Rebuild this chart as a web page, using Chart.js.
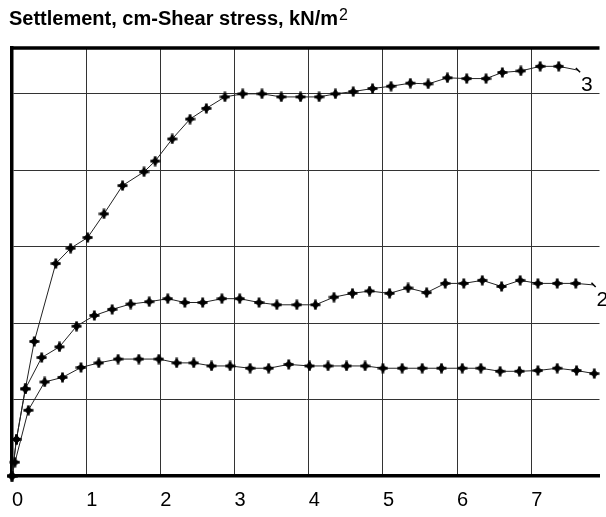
<!DOCTYPE html>
<html>
<head>
<meta charset="utf-8">
<title>Settlement - Shear stress</title>
<script src="https://cdn.jsdelivr.net/npm/chart.js@4.4.1/dist/chart.umd.min.js"></script>
<style>
  html, body { margin: 0; padding: 0; background: #fff; overflow: hidden; }
  #wrap { position: relative; width: 606px; height: 517px; }
  #title {
    position: absolute; left: 9px; top: 8px;
    font: bold 20px "Liberation Sans", Arial, sans-serif; line-height: 20px;
    color: #000; white-space: nowrap;
  }
  #title span { font-size: 16px; font-weight: normal; position: relative; top: -5px; margin-left: 1px; }
</style>
</head>
<body>
<div id="wrap">
  <canvas id="chart" width="606" height="517"></canvas>
  <div id="title">Settlement, cm-Shear stress, kN/m<span>2</span></div>
</div>
<script>
// settlement readings (cm) and shear stress (one unit per grid line) for each test
const settle1 = [0, 0.04, 0.22, 0.44, 0.68, 0.93, 1.17, 1.43, 1.71, 1.98, 2.22, 2.45, 2.69, 2.94, 3.21, 3.46,
                 3.73, 4.01, 4.26, 4.51, 4.76, 5.00, 5.26, 5.53, 5.79, 6.07, 6.32, 6.58, 6.84, 7.09, 7.35, 7.61, 7.85];
const stress1 = [0, 0.18, 0.86, 1.23, 1.29, 1.42, 1.48, 1.53, 1.53, 1.53, 1.48, 1.48, 1.44, 1.44, 1.41, 1.41,
                 1.46, 1.44, 1.44, 1.44, 1.44, 1.41, 1.41, 1.41, 1.41, 1.41, 1.41, 1.37, 1.37, 1.38, 1.41, 1.38, 1.34];

const settle2 = [0, 0.06, 0.18, 0.40, 0.64, 0.87, 1.11, 1.35, 1.60, 1.85, 2.10, 2.33, 2.57, 2.83, 3.07, 3.33, 3.57,
                 3.84, 4.09, 4.34, 4.59, 4.82, 5.09, 5.34, 5.59, 5.84, 6.09, 6.34, 6.60, 6.85, 7.09, 7.35, 7.60, 7.84];
const stress2 = [0, 0.48, 1.14, 1.55, 1.69, 1.96, 2.10, 2.18, 2.25, 2.28, 2.32, 2.27, 2.27, 2.32, 2.32, 2.27, 2.24,
                 2.24, 2.24, 2.34, 2.39, 2.42, 2.39, 2.46, 2.40, 2.52, 2.52, 2.56, 2.48, 2.56, 2.52, 2.52, 2.52, 2.50];

const settle3 = [0, 0.06, 0.18, 0.30, 0.59, 0.79, 1.02, 1.24, 1.49, 1.78, 1.93, 2.16, 2.40, 2.62, 2.87, 3.11, 3.37,
                 3.63, 3.89, 4.14, 4.36, 4.60, 4.86, 5.11, 5.37, 5.61, 5.87, 6.13, 6.39, 6.61, 6.86, 7.12, 7.37, 7.63];
const stress3 = [0, 0.48, 1.14, 1.76, 2.78, 2.98, 3.12, 3.43, 3.80, 3.98, 4.12, 4.41, 4.67, 4.81, 4.96, 5.00, 5.00,
                 4.96, 4.96, 4.96, 5.00, 5.03, 5.07, 5.10, 5.14, 5.13, 5.21, 5.20, 5.20, 5.28, 5.30, 5.36, 5.36, 5.31];

const curveNames = ["", "2", "3"];
const xTicks = [0, 1, 2, 3, 4, 5, 6, 7];
const yGrid = [0, 1, 2, 3, 4, 5];

// heavy plus-shaped point marker
function makeMarker() {
  const c = document.createElement("canvas");
  c.width = 11; c.height = 11;
  const g = c.getContext("2d");
  g.fillStyle = "#000";
  g.beginPath();
  g.moveTo(5.5, 1.3); g.lineTo(9.7, 5.5); g.lineTo(5.5, 9.7); g.lineTo(1.3, 5.5);
  g.closePath(); g.fill();
  g.fillRect(4.2, 0.5, 2.6, 10);
  g.fillRect(0.5, 4.2, 10, 2.6);
  return c;
}
const marker = makeMarker();

function curve(xs, ys, name, tickAtEnd) {
  const last = xs.length - 1;
  return {
    label: name,
    data: xs.map((x, i) => ({ x: x, y: ys[i] })),
    showLine: true,
    borderColor: "#222",
    borderWidth: 1,
    pointStyle: ctx => (tickAtEnd && ctx.dataIndex === last) ? "line" : marker,
    pointRotation: ctx => (tickAtEnd && ctx.dataIndex === last) ? 45 : 0,
    pointRadius: ctx => (tickAtEnd && ctx.dataIndex === last) ? 3 : 5,
    pointBorderColor: "#000",
    pointBorderWidth: 1.5,
    clip: false
  };
}

// top edge of the frame (left and bottom come from the axis borders)
const frameTop = {
  id: "frameTop",
  afterDatasetsDraw(chart) {
    const a = chart.chartArea, g = chart.ctx;
    g.save();
    g.strokeStyle = "#000";
    g.lineWidth = 3.5;
    g.beginPath();
    g.moveTo(a.left - 1.75, a.top);
    g.lineTo(a.right, a.top);
    g.stroke();
    g.restore();
  }
};

// curve number written just past the last reading
const endLabels = {
  id: "endLabels",
  afterDatasetsDraw(chart) {
    const g = chart.ctx;
    g.save();
    g.fillStyle = "#000";
    g.font = '21px "Liberation Sans", Arial, sans-serif';
    g.textAlign = "left";
    g.textBaseline = "top";
    chart.data.datasets.forEach((ds, i) => {
      if (!ds.label) return;
      const pts = chart.getDatasetMeta(i).data;
      const p = pts[pts.length - 1];
      g.fillText(ds.label, p.x + 3, p.y + 5);
    });
    g.restore();
  }
};

new Chart(document.getElementById("chart"), {
  type: "scatter",
  data: {
    datasets: [
      curve(settle1, stress1, curveNames[0], false),
      curve(settle2, stress2, curveNames[1], true),
      curve(settle3, stress3, curveNames[2], true)
    ]
  },
  options: {
    responsive: false,
    animation: false,
    layout: { padding: { left: 10, top: 48, right: 0, bottom: -7 } },
    plugins: { legend: { display: false }, tooltip: { enabled: false } },
    scales: {
      x: {
        type: "linear",
        min: 0,
        max: 7.92,
        afterBuildTicks: s => { s.ticks = xTicks.map(v => ({ value: v })); },
        ticks: {
          align: "start",
          padding: 12,
          color: "#000",
          font: { family: '"Liberation Sans", Arial, sans-serif', size: 20 },
          callback: v => String(v)
        },
        grid: { color: "#333", lineWidth: 1, drawTicks: false },
        border: { display: true, color: "#000", width: 3.5 }
      },
      y: {
        type: "linear",
        min: 0,
        max: 5.6,
        afterBuildTicks: s => { s.ticks = yGrid.map(v => ({ value: v })); },
        ticks: { display: false },
        grid: { color: "#333", lineWidth: 1, drawTicks: false },
        border: { display: true, color: "#000", width: 3.5 }
      }
    }
  },
  plugins: [frameTop, endLabels]
});
</script>
</body>
</html>
